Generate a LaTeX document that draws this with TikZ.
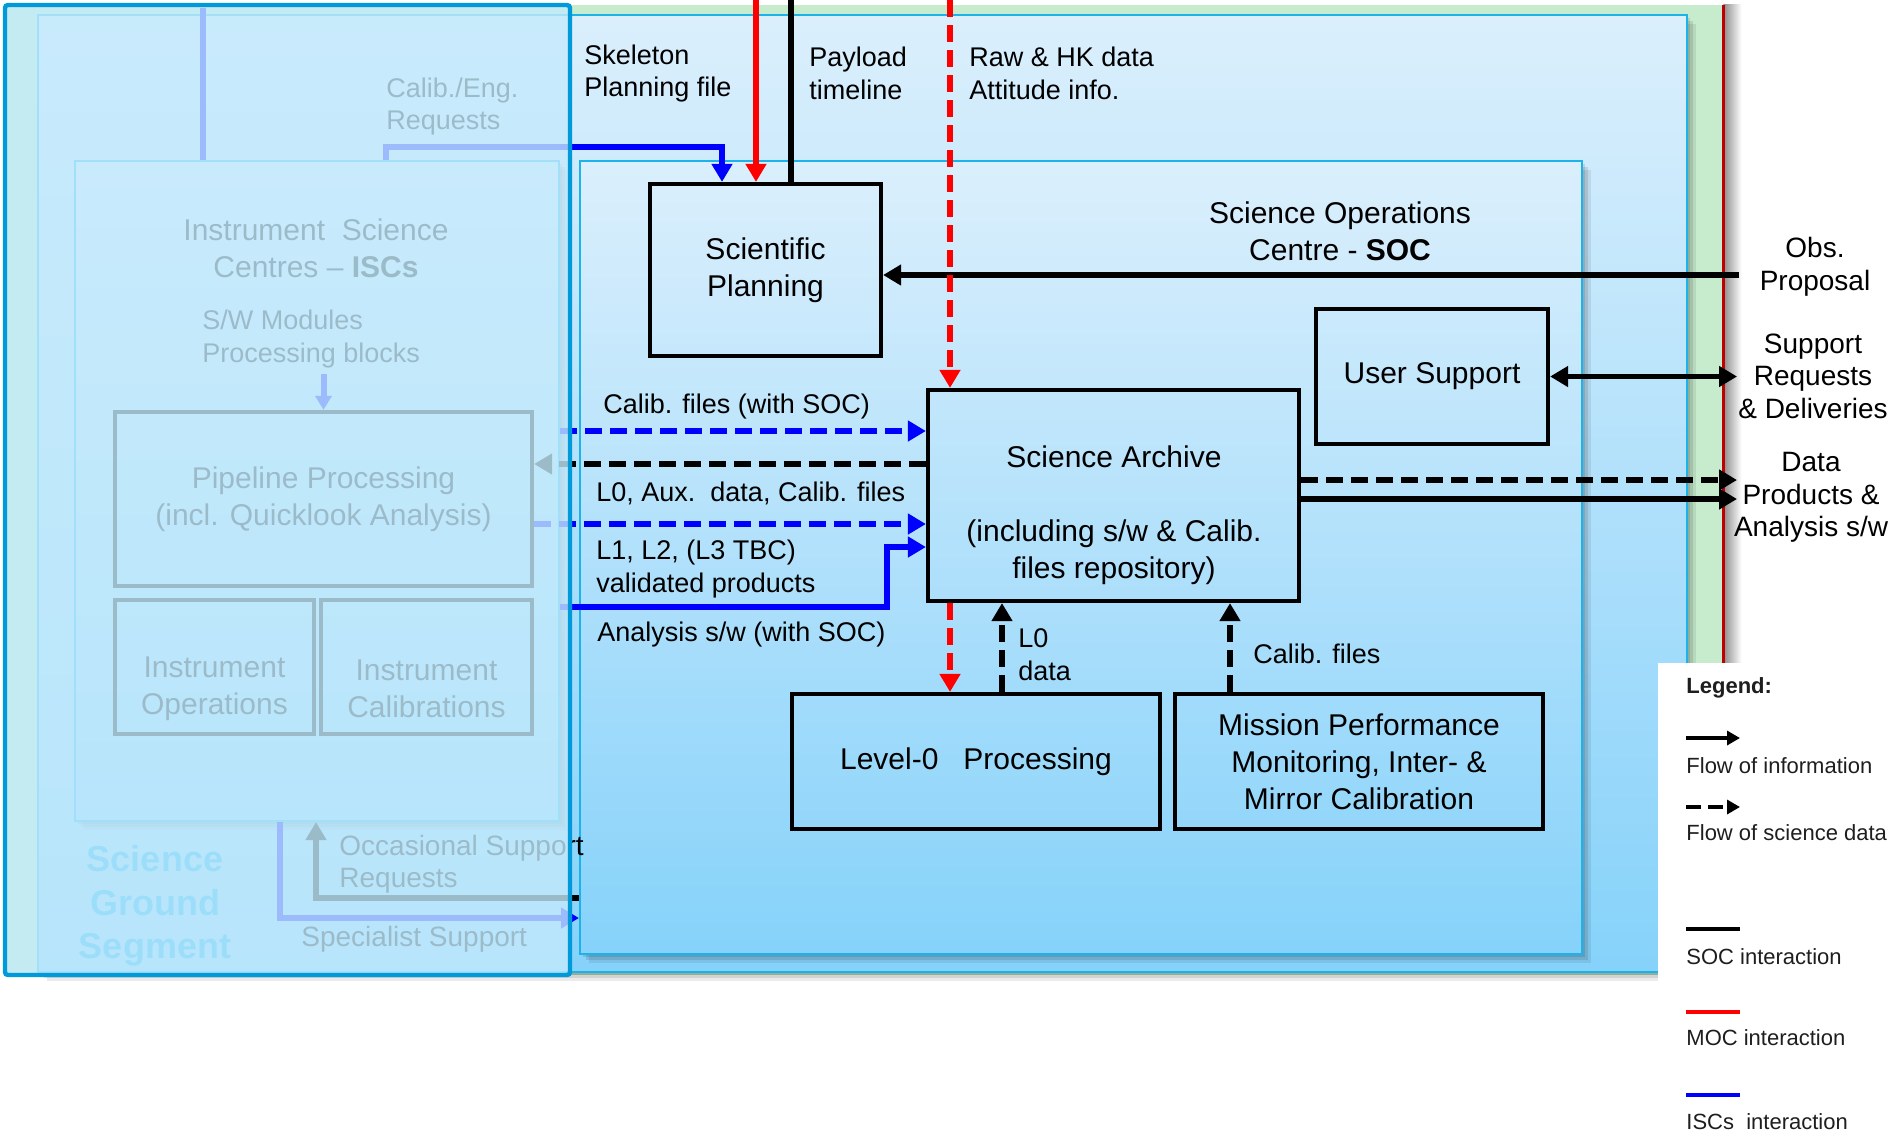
\documentclass[tikz,border=0pt]{standalone}
\usepackage{fontspec}
\setmainfont{Liberation Sans}
\usetikzlibrary{arrows.meta,calc}

\definecolor{groundGreen}{HTML}{C6EBCD}
\definecolor{paneTop}{HTML}{DBEFFC}
\definecolor{paneBottom}{HTML}{86D2FA}
\definecolor{paneEdge}{HTML}{1BB3EA}
\definecolor{veilFill}{HTML}{C4EAFC}
\definecolor{veilEdge}{HTML}{0099D9}
\definecolor{segTitle}{HTML}{00B0F0}
\definecolor{mocRed}{HTML}{FF0000}
\definecolor{iscBlue}{HTML}{0000FF}
\definecolor{rimRed}{HTML}{C00000}
\definecolor{legendInk}{HTML}{1E1E1E}

\newcommand\diagBoxFont{\fontsize{15}{18.5}\selectfont}
\newcommand\diagLabelFont{\fontsize{13.5}{16.4}\selectfont}
\newcommand\diagSideFont{\fontsize{14}{16.25}\selectfont}
\newcommand\diagLegendFont{\fontsize{11}{13}\selectfont}
\newcommand\diagSegFont{\fontsize{18}{21.75}\selectfont\bfseries}

\begin{document}
\begin{tikzpicture}[x=0.5pt, y=-0.5pt,
  softshadow/.style={
    preaction={fill=black, opacity=0.10, transform canvas={xshift=1.5pt, yshift=-1.5pt}},
    preaction={fill=black, opacity=0.10, transform canvas={xshift=3pt, yshift=-3pt}},
    preaction={fill=black, opacity=0.08, transform canvas={xshift=4.5pt, yshift=-4.5pt}}},
  pane/.style={softshadow, draw=paneEdge, line width=1pt,
    top color=paneTop, bottom color=paneBottom, inner sep=0pt},
  unit/.style={draw=black, line width=2.1pt, inner sep=0pt, align=center, font=\diagBoxFont},
  boxtext/.style={align=center, inner sep=0pt, font=\diagBoxFont},
  flowlabel/.style={anchor=west, align=left, inner sep=0pt, font=\diagLabelFont},
  sidelabel/.style={align=center, inner sep=0pt, font=\diagSideFont},
  legendtext/.style={anchor=west, inner sep=0pt, font=\diagLegendFont, text=legendInk},
  socline/.style={draw=black, line width=2.8pt},
  mocline/.style={draw=mocRed, line width=2.6pt},
  iscline/.style={draw=iscBlue, line width=3pt},
  dataflow/.style={dash pattern=on 8.5pt off 4pt},
  tip/.style={-{Triangle[length=9pt,width=10pt]}},
  twotips/.style={{Triangle[length=9pt,width=10pt]}-{Triangle[length=9pt,width=10pt]}},
  smalltip/.style={-{Triangle[length=6.5pt,width=7pt]}}
]
\useasboundingbox (0,0) rectangle (1893,1131);
\fill[white] (0,0) rectangle (1893,1131);

% ---------- backdrop of the ground segment ----------
\node[fill=groundGreen, inner sep=0pt, minimum width=859pt, minimum height=485pt] (ground) at (864,490) {};
\shade[left color=black!45, right color=white] (ground.north east) rectangle ($(ground.south east)+(18,0)$);
\draw[rimRed, line width=1.2pt] (ground.north east) -- (ground.south east);

% ---------- framed panes ----------
\node[pane, minimum width=824.5pt, minimum height=478.5pt] (outer) at (862.5,493.5) {};
\node[pane, minimum width=501pt, minimum height=396.5pt] (soc) at (1081,557.5) {};
\node[pane, minimum width=242pt, minimum height=330pt] (isc) at (317,491) {};

% ---------- SOC contents ----------
\node[boxtext] (socTitle) at (1340,231) {Science Operations\\Centre\ -\ \textbf{SOC}};
\node[unit, minimum width=115.5pt, minimum height=86pt] (sp) at (765.5,270) {Scientific\\Planning};
\node[unit, minimum width=185.5pt, minimum height=105.5pt] (sa) at (1113.5,495.5) {};
\node[boxtext] (saText) at (1114,515) {Science Archive\\[18.5pt](including s/w \& Calib.\\files repository)};
\node[unit, minimum width=116pt, minimum height=67.5pt] (us) at (1432,376.5) {User Support};
\node[unit, minimum width=184pt, minimum height=67.5pt] (l0) at (976,761.5) {Level-0\ \ \ Processing};
\node[unit, minimum width=184pt, minimum height=67.5pt] (mp) at (1359,761.5) {Mission Performance\\Monitoring, Inter-\ \&\\Mirror\ Calibration};

% ---------- ISC contents ----------
\node[boxtext] (iscTitle) at (316,248) {Instrument\ \ Science\\Centres\ -- \textbf{ISCs}};
\node[flowlabel] (swText) at (202,339) {S/W Modules\\Processing blocks};
\node[unit, minimum width=208.5pt, minimum height=87pt] (pp) at (323.5,499) {Pipeline Processing\\(incl. Quicklook Analysis)};
\node[unit, minimum width=99.5pt, minimum height=67pt] (io) at (214.5,667) {};
\node[boxtext] (ioText) at (214.5,689) {Instrument\\Operations};
\node[unit, minimum width=105.5pt, minimum height=67pt] (ic) at (426.5,667) {};
\node[boxtext] (icText) at (426.5,689) {Instrument\\Calibrations};
\node[font=\diagSegFont, text=segTitle, align=center, inner sep=0pt] (sgsName) at (155,906) {Science\\Ground\\Segment};

% ---------- labels ----------
\node[flowlabel] (skelText) at (584,73.5) {Skeleton\\Planning file};
\node[flowlabel] (payText) at (809,73.5) {Payload\\timeline};
\node[flowlabel] (rawText) at (969,73.5) {Raw \& HK data\\Attitude info.};
\node[flowlabel] (calEngText) at (386,106.5) {Calib./Eng.\\Requests};
\node[flowlabel] (calSocText) at (603,406) {Calib. files (with SOC)};
\node[flowlabel] (l0auxText) at (596,493) {L0, Aux.\ \ data, Calib. files};
\node[flowlabel] (l1Text) at (596,569) {L1, L2, (L3 TBC)\\validated products};
\node[flowlabel] (anaText) at (597,635) {Analysis s/w (with SOC)};
\node[flowlabel] (l0dText) at (1018,654.5) {L0\\data};
\node[flowlabel] (calFText) at (1253,654) {Calib. files};
\node[flowlabel, font=\fontsize{14}{16}\selectfont] (occText) at (339,864) {Occasional Support\\Requests};
\node[flowlabel, font=\fontsize{14}{16}\selectfont] (specText) at (301,939) {Specialist Support};
\node[sidelabel] (obsText) at (1815,266.5) {Obs.\\Proposal};
\node[sidelabel] (supText) at (1813,376) {Support\\Requests\\\& Deliveries};
\node[sidelabel] (dataText) at (1811,497.5) {Data\\Products \&\\Analysis s/w};

% ---------- anchor points of the connectors ----------
\coordinate (mocPlan) at (756,0);
\coordinate (socTime) at (791,0);
\coordinate (mocRaw) at (950,0);
\coordinate (iscFeed) at (203,8);
\coordinate (calEngTurn) at (722,147);
\coordinate (obsIn) at (1739,275);
\coordinate (supOut) at (1737,378);
\coordinate (dataDash) at (1737,480);
\coordinate (dataSolid) at (1737,499);
\coordinate (yCalSoc) at (0,431);
\coordinate (yL0aux) at (0,464);
\coordinate (yL1) at (0,524);
\coordinate (anaLow) at (887,607);
\coordinate (anaHigh) at (887,547);
\coordinate (l0Up) at (1002,0);
\coordinate (calUp) at (1230,0);
\coordinate (occBend) at (316,898);
\coordinate (specBend) at (280,918);

% ---------- connectors ----------
\draw[iscline] (iscFeed) -- (iscFeed |- isc.north);
\draw[iscline, tip] (isc.north -| calEngText.west) |- (calEngTurn) -- (calEngTurn |- sp.north);
\draw[iscline, -{Triangle[length=7pt,width=8pt]}] ($(swText.south -| pp.north)+(0,6)$) -- (pp.north);
\draw[socline] (socTime) -- (socTime |- sp.north);
\draw[mocline, tip] (mocPlan) -- (mocPlan |- sp.north);
\draw[socline, tip] (obsIn) -- (obsIn -| sp.east);
\draw[mocline, dataflow, tip] (mocRaw) -- (mocRaw |- sa.north);
\draw[socline, twotips] (us.east) -- (us.east -| supOut);
\draw[socline, dataflow, tip] (dataDash -| sa.east) -- (dataDash);
\draw[socline, tip] (dataSolid -| sa.east) -- (dataSolid);
\draw[iscline, dataflow, tip] (isc.east |- yCalSoc) -- (sa.west |- yCalSoc);
\draw[socline, dataflow, tip] (sa.west |- yL0aux) -- (pp.east |- yL0aux);
\draw[iscline, dataflow, tip] (pp.east |- yL1) -- (sa.west |- yL1);
\draw[iscline, tip] (isc.east |- anaLow) -- (anaLow) -- (anaHigh) -- (sa.west |- anaHigh);
\draw[mocline, dataflow, tip] (sa.south -| mocRaw) -- (l0.north -| mocRaw);
\draw[socline, dataflow, tip] (l0.north -| l0Up) -- (sa.south -| l0Up);
\draw[socline, dataflow, tip] (mp.north -| calUp) -- (sa.south -| calUp);
\draw[socline, tip] (soc.west |- occBend) -- (occBend) -- (isc.south -| occBend);
\draw[iscline, tip] (isc.south -| specBend) -- (specBend) -- (soc.west |- specBend);

% ---------- veil of the science ground segment ----------
\node[draw=veilEdge, line width=2.2pt, fill=veilFill, fill opacity=0.8, rounded corners=1.5pt,
      inner sep=0pt, minimum width=282.5pt, minimum height=485pt] (sgs) at (287.5,490) {};

% ---------- legend ----------
\node[fill=white, inner sep=0pt, minimum width=120pt, minimum height=236pt, anchor=north west] (legend) at (1658,663) {};
\node[legendtext, font=\diagLegendFont\bfseries] (legTitle) at (1686,688) {Legend:};
\coordinate (legInfo) at (1686,738);
\coordinate (legData) at (1686,807);
\coordinate (legSoc) at (1686,929);
\coordinate (legMoc) at (1686,1012);
\coordinate (legIsc) at (1686,1095);
\draw[socline, line width=2.2pt, smalltip] (legInfo) -- ++(54,0);
\node[legendtext] (legInfoText) at (1686,766) {Flow of information};
\draw[socline, line width=2.2pt, dash pattern=on 7.5pt off 3.5pt, smalltip] (legData) -- ++(54,0);
\node[legendtext] (legDataText) at (1686,833) {Flow of science data};
\draw[socline, line width=2.2pt] (legSoc) -- ++(54,0);
\node[legendtext] (legSocText) at (1686,957) {SOC interaction};
\draw[mocline, line width=2.2pt] (legMoc) -- ++(54,0);
\node[legendtext] (legMocText) at (1686,1038) {MOC interaction};
\draw[iscline, line width=2.2pt] (legIsc) -- ++(54,0);
\node[legendtext] (legIscText) at (1686,1122) {ISCs\ \ interaction};
\end{tikzpicture}
\end{document}
